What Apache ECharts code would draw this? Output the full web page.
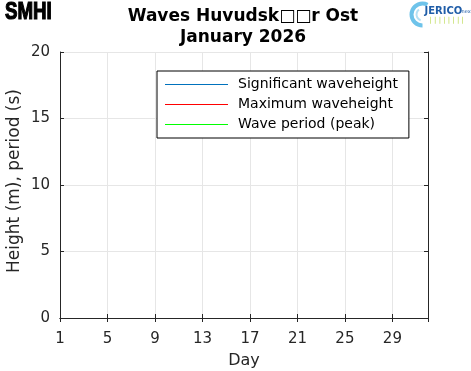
<!DOCTYPE html>
<html>
<head>
<meta charset="utf-8">
<script src="https://cdn.jsdelivr.net/npm/echarts@6/dist/echarts.min.js"></script>
<style>html,body{margin:0;padding:0;background:#fff;}#c{width:471px;height:371px;}</style>
</head>
<body>
<div id="c"></div>
<script>
// ---- data ----
const titleLines = ['Waves Huvudsk\u25A1\u25A1r Ost', 'January 2026'];
const xTicks = [1, 5, 9, 13, 17, 21, 25, 29];
const xRange = [1, 32];
const yTicks = [0, 5, 10, 15, 20];
const seriesNames = ['Significant waveheight', 'Maximum waveheight', 'Wave period (peak)'];
const seriesColors = ['#0072BD', '#FF0000', '#00FF00'];
const sigWave = [];
const maxWave = [];
const wavePeriod = [];
const xLabel = 'Day';
const yLabel = 'Height (m), period (s)';

const FONT = 'DejaVu Sans';
const AX = '#262626';
const chart = echarts.init(document.getElementById('c'), null, {renderer: 'canvas'});
const xStep = xTicks[1] - xTicks[0];
const yStep = yTicks[1] - yTicks[0];

function axisCommon(extra) {
  return Object.assign({
    axisLine: {show: true, lineStyle: {color: AX, width: 1}},
    axisTick: {show: true, inside: true, length: 4, lineStyle: {color: AX}},
  }, extra);
}

const option = {
  backgroundColor: '#fff',
  animation: false,
  title: {
    text: titleLines.join('\n'),
    left: 238, top: 1, textAlign: 'center',
    textStyle: {fontFamily: FONT, fontSize: 17, fontWeight: 'bold', color: '#000', lineHeight: 21}
  },
  grid: {left: 60, right: 43, top: 52, bottom: 53, containLabel: false, outerBoundsMode: 'none'},
  legend: {
    data: seriesNames,
    orient: 'vertical',
    left: 157, top: 71,
    padding: [3.5, 11, 3.5, 8],
    itemGap: 0,
    itemWidth: 63, itemHeight: 1,
    icon: 'rect',
    borderColor: '#000', borderWidth: 1,
    backgroundColor: '#fff',
    textStyle: {fontFamily: FONT, fontSize: 14, color: '#000', lineHeight: 20, padding: [0, 0, 0, 5]},
    selectedMode: false
  },
  xAxis: [
    axisCommon({
      type: 'value', min: xRange[0], max: xRange[1], interval: xStep,
      name: xLabel, nameLocation: 'middle', nameGap: 35,
      nameTextStyle: {fontFamily: FONT, fontSize: 16, color: AX},
      axisLabel: {fontFamily: FONT, fontSize: 15, color: AX, margin: 14, showMaxLabel: false,
        formatter: v => xTicks.indexOf(v) >= 0 ? String(v) : ''},
      splitLine: {show: true, lineStyle: {color: '#e6e6e6', width: 1}}
    }),
    axisCommon({
      type: 'value', position: 'top', min: xRange[0], max: xRange[1], interval: xStep,
      axisLabel: {show: false}, splitLine: {show: false}
    })
  ],
  yAxis: [
    axisCommon({
      type: 'value', min: yTicks[0], max: yTicks[yTicks.length - 1], interval: yStep,
      name: yLabel, nameLocation: 'middle', nameGap: 37, nameRotate: 90, nameMoveOverlap: false,
      nameTextStyle: {fontFamily: FONT, fontSize: 17, color: AX, padding: [0, 0, 0, 8]},
      axisLabel: {fontFamily: FONT, fontSize: 15, color: AX, margin: 10},
      splitLine: {show: true, lineStyle: {color: '#e6e6e6', width: 1}}
    }),
    axisCommon({
      type: 'value', position: 'right', min: yTicks[0], max: yTicks[yTicks.length - 1], interval: yStep,
      axisLabel: {show: false}, splitLine: {show: false}
    })
  ],
  series: [
    {name: seriesNames[0], type: 'line', data: sigWave, showSymbol: false, lineStyle: {width: 1}, color: seriesColors[0]},
    {name: seriesNames[1], type: 'line', data: maxWave, showSymbol: false, lineStyle: {width: 1}, color: seriesColors[1]},
    {name: seriesNames[2], type: 'line', data: wavePeriod, showSymbol: false, lineStyle: {width: 1}, color: seriesColors[2]}
  ],
  graphic: [
    {type: 'text', x: 5, y: 0, scaleX: 0.78,
      style: {text: 'SMHI', font: 'bold 24px "Liberation Sans", sans-serif', fill: '#000', stroke: '#000', lineWidth: 1.2}},
    {type: 'group', left: 409, top: 1, children: [
      {type: 'arc', shape: {cx: 13, cy: 13, r: 11, startAngle: Math.PI * 0.5, endAngle: Math.PI * 1.65}, style: {stroke: '#6ec3ea', lineWidth: 4, fill: null}},
      {type: 'arc', shape: {cx: 13, cy: 13, r: 6, startAngle: Math.PI * 0.6, endAngle: Math.PI * 1.3}, style: {stroke: '#b5e0f4', lineWidth: 2, fill: null}},
      {type: 'text', x: 15, y: 5, style: {text: 'JERICO', font: 'bold 10px "DejaVu Sans", sans-serif', fill: '#1f5da8'}},
      {type: 'text', x: 52, y: 8, style: {text: 'next', font: '5px "DejaVu Sans", sans-serif', fill: '#1f5da8'}},
      {type: 'text', x: 20, y: 15, style: {text: '| | | | | | | |', font: '7px "DejaVu Sans", sans-serif', fill: '#b8d84a'}}
    ]}
  ]
};
chart.setOption(option);
</script>
</body>
</html>
